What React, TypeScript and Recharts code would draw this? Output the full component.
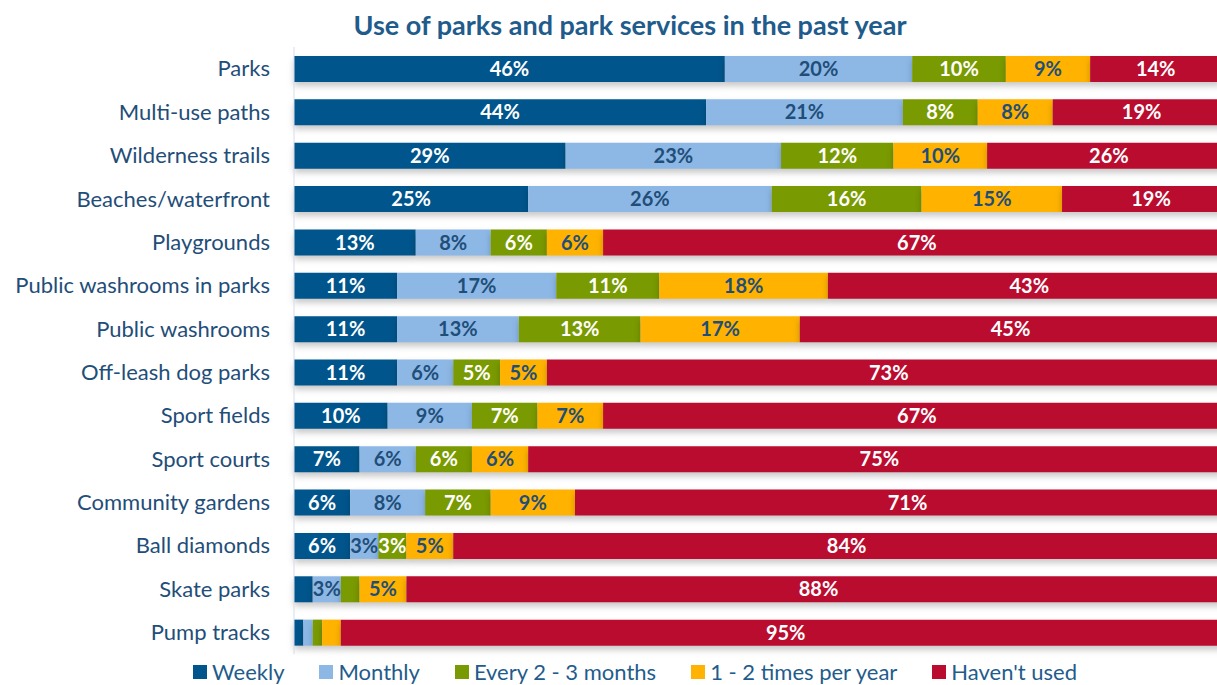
import React from 'react';
import { BarChart, Bar, XAxis, YAxis, LabelList } from 'recharts';

const categories = [
  'Parks',
  'Multi-use paths',
  'Wilderness trails',
  'Beaches/waterfront',
  'Playgrounds',
  'Public washrooms in parks',
  'Public washrooms',
  'Off-leash dog parks',
  'Sport fields',
  'Sport courts',
  'Community gardens',
  'Ball diamonds',
  'Skate parks',
  'Pump tracks',
];

const weekly = [46, 44, 29, 25, 13, 11, 11, 11, 10, 7, 6, 6, 2, 1];
const monthly = [20, 21, 23, 26, 8, 17, 13, 6, 9, 6, 8, 3, 3, 1];
const every2to3 = [10, 8, 12, 16, 6, 11, 13, 5, 7, 6, 7, 3, 2, 1];
const yearly = [9, 8, 10, 15, 6, 18, 17, 5, 7, 6, 9, 5, 5, 2];
const notUsed = [14, 19, 26, 19, 67, 43, 45, 73, 67, 75, 71, 84, 88, 95];

const series = [
  { key: 'weekly', name: 'Weekly', color: '#00558C', label: '#FFFFFF' },
  { key: 'monthly', name: 'Monthly', color: '#8DB8E6', label: '#1F4E79' },
  { key: 'every', name: 'Every 2 - 3 months', color: '#7A9A01', label: '#FFFFFF' },
  { key: 'yearly', name: '1 - 2 times per year', color: '#FFB300', label: '#1F4E79' },
  { key: 'never', name: "Haven't used", color: '#BA0C2F', label: '#FFFFFF' },
];

const data = categories.map((name, i) => ({
  name,
  weekly: weekly[i],
  monthly: monthly[i],
  every: every2to3[i],
  yearly: yearly[i],
  never: notUsed[i],
}));

const font = 'Lato, "Open Sans", sans-serif';

export default function App() {
  return (
    <div style={{ position: 'absolute', left: 0, top: 0, width: 1217, height: 685, overflow: 'hidden', background: '#fff', fontFamily: font }}>
      <style>{`.shadowed .recharts-bar-rectangles { filter: drop-shadow(0 4px 3px rgba(0,0,0,0.22)); }`}</style>
      <div style={{ position: 'absolute', top: 8, left: 0, width: 1260, textAlign: 'center', fontSize: 27, fontWeight: 700, color: '#1F5C8C', lineHeight: 'normal' }}>
        Use of parks and park services in the past year
      </div>
      <BarChart
        className="shadowed"
        width={1240}
        height={685}
        data={data}
        layout="vertical"
        margin={{ top: 47, right: 0, left: 0, bottom: 31 }}
        barSize={26}
        style={{ fontFamily: font }}
      >
        <XAxis type="number" domain={[0, 100]} hide />
        <YAxis
          type="category"
          dataKey="name"
          width={294}
          axisLine={{ stroke: '#D6DEEA' }}
          tickLine={false}
          tickMargin={18}
          tick={{ fill: '#1F4E79', fontSize: 22 }}
          interval={0}
        />
        {series.map((s) => (
          <Bar key={s.key} dataKey={s.key} name={s.name} stackId="a" fill={s.color} isAnimationActive={false}>
            <LabelList
              dataKey={s.key}
              position="center"
              formatter={(v: any) => (v >= 3 ? `${v}%` : '')}
              style={{ fill: s.label, fontSize: 20, fontWeight: 700 }}
            />
          </Bar>
        ))}
      </BarChart>
      <div style={{ position: 'absolute', left: 193, top: 658, display: 'flex', alignItems: 'center', fontSize: 22, color: '#1F5C8C', lineHeight: 'normal' }}>
        {series.map((s) => (
          <div key={s.key} style={{ display: 'flex', alignItems: 'center', marginRight: 35 }}>
            <span style={{ display: 'inline-block', width: 14, height: 14, background: s.color, marginRight: 5 }} />
            <span>{s.name}</span>
          </div>
        ))}
      </div>
    </div>
  );
}
